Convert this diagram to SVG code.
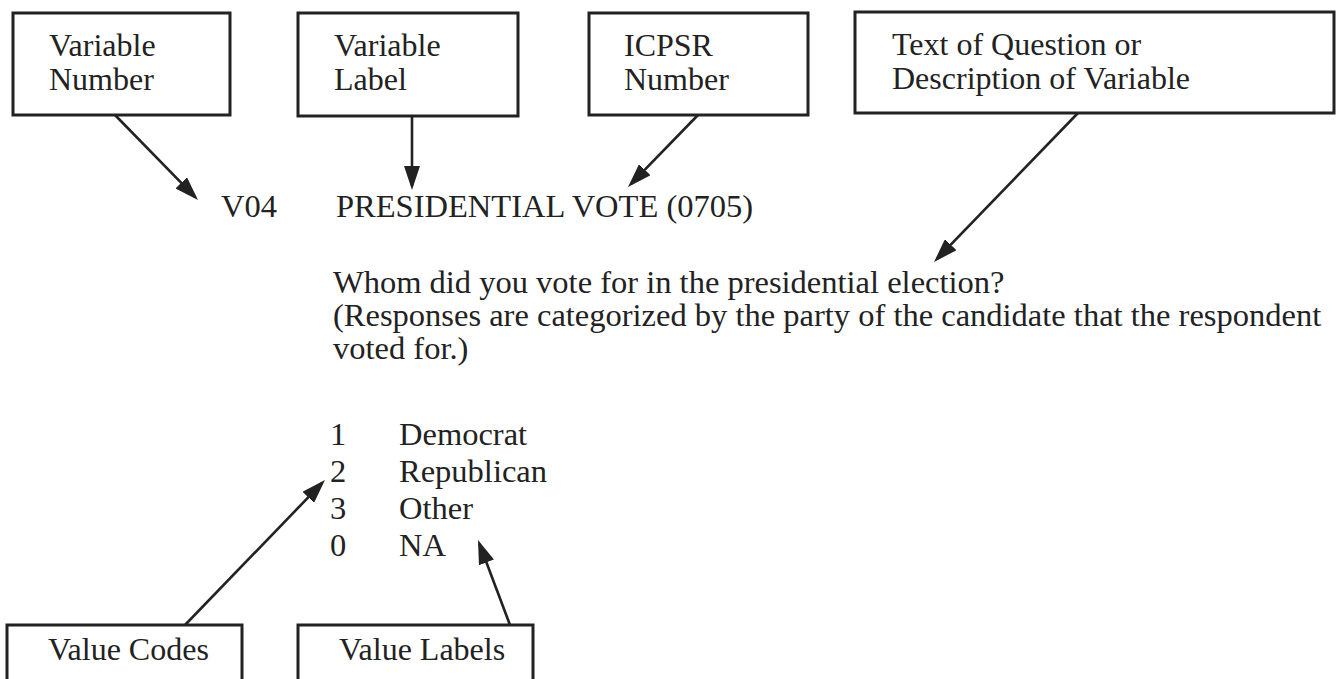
<svg xmlns="http://www.w3.org/2000/svg" width="1336" height="679" viewBox="0 0 1336 679">
<style>
  .box { fill: #ffffff; stroke: #222222; stroke-width: 3; }
  .t { font-family: "Liberation Serif", "Times New Roman", serif; font-size: 32px; fill: #222222; }
  .b { font-family: "Liberation Serif", "Times New Roman", serif; font-size: 32.5px; fill: #222222; }
  .conn { stroke: #222222; stroke-width: 2.6; fill: none; marker-end: url(#arrow); }
</style>
<defs>
  <marker id="arrow" markerUnits="userSpaceOnUse" markerWidth="24" markerHeight="16" refX="20" refY="8" orient="auto">
    <path d="M0,0 L24,8 L0,16 z" fill="#222222"/>
  </marker>
</defs>
<rect x="0" y="0" width="1336" height="679" fill="#ffffff"/>

<g id="variable-number">
  <rect class="box" x="13" y="13" width="217" height="102"/>
  <text class="t" x="49" y="56">Variable<tspan x="49" dy="34">Number</tspan></text>
</g>
<g id="variable-label">
  <rect class="box" x="298" y="13" width="220" height="103"/>
  <text class="t" x="334" y="56">Variable<tspan x="334" dy="34">Label</tspan></text>
</g>
<g id="icpsr-number">
  <rect class="box" x="589" y="13" width="219" height="102"/>
  <text class="t" x="624" y="56">ICPSR<tspan x="624" dy="34">Number</tspan></text>
</g>
<g id="text-of-question">
  <rect class="box" x="855" y="12" width="479" height="101"/>
  <text class="t" x="892" y="55">Text of Question or<tspan x="892" dy="34">Description of Variable</tspan></text>
</g>

<g id="codebook-entry">
  <text class="b" x="221" y="217">V04</text>
  <text class="b" x="336" y="217">PRESIDENTIAL VOTE (0705)</text>
  <text class="b" x="333" y="292.5">Whom did you vote for in the presidential election?<tspan x="333" dy="33">(Responses are categorized by the party of the candidate that the respondent</tspan><tspan x="333" dy="33">voted for.)</tspan></text>
  <text class="b" x="330" y="445">1<tspan x="330" dy="37">2</tspan><tspan x="330" dy="37">3</tspan><tspan x="330" dy="37">0</tspan></text>
  <text class="b" x="399" y="445">Democrat<tspan x="399" dy="37">Republican</tspan><tspan x="399" dy="37">Other</tspan><tspan x="399" dy="37">NA</tspan></text>
</g>

<g id="value-codes">
  <rect class="box" x="7" y="625" width="235" height="90"/>
  <text class="t" x="48" y="660">Value Codes</text>
</g>
<g id="value-labels">
  <rect class="box" x="298" y="625" width="235" height="90"/>
  <text class="t" x="339" y="660">Value Labels</text>
</g>

<g id="connectors">
  <line class="conn" x1="115" y1="115" x2="195.2" y2="197.1"/>
  <line class="conn" x1="412" y1="116" x2="412" y2="186"/>
  <line class="conn" x1="698" y1="115" x2="630.8" y2="184.1"/>
  <line class="conn" x1="1078" y1="113" x2="936.8" y2="259.1"/>
  <line class="conn" x1="185" y1="625" x2="322.2" y2="482.9"/>
  <line class="conn" x1="510" y1="625" x2="479.4" y2="543.7"/>
</g>
</svg>
